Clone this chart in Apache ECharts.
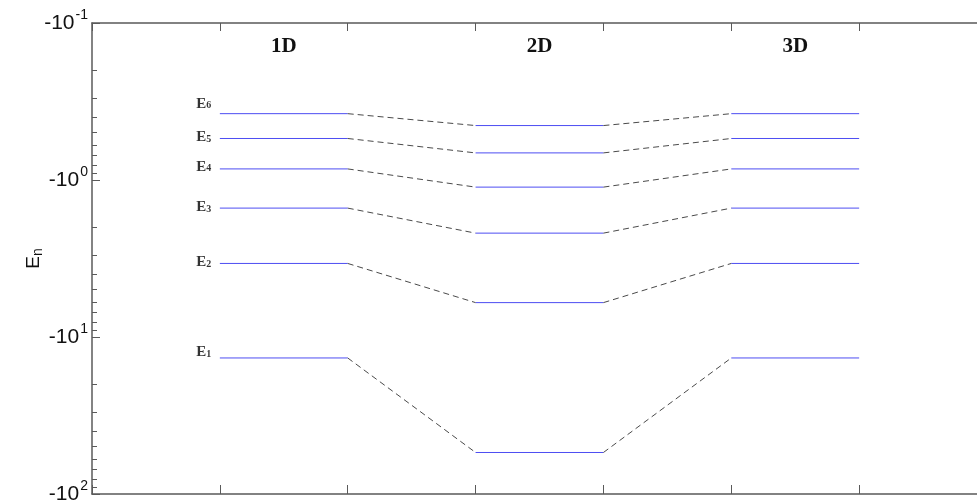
<!DOCTYPE html>
<html>
<head>
<meta charset="utf-8">
<script src="https://cdn.jsdelivr.net/npm/echarts@6/dist/echarts.min.js"></script>
<style>
  html, body { margin: 0; padding: 0; background: #fff; }
  #chart { width: 977px; height: 502px; }
</style>
</head>
<body>
<div id="chart"></div>
<script>
// energy levels (y axis is -|E| on a log scale)
var levelNames = ['1', '2', '3', '4', '5', '6'];
var energy1D = [-13.6, -3.40, -1.51, -0.85, -0.544, -0.378];
var energy2D = [-54.4, -6.04, -2.18, -1.11, -0.672, -0.450];
var energy3D = [-13.6, -3.40, -1.51, -0.85, -0.544, -0.378];
var columnNames = ['', '1D', '', '2D', '', '3D', ''];
var columnStart = [1, 3, 5];

var levelColor = '#4d4df2';
var dashColor = '#4a4a4a';
var axisColor = '#5a5a5a';
// small vertical nudges of the E labels, as in the figure
var labelShift = [-6, -1, -1, -2, -1, -10];

var series = [];
var labelData = [];
for (var i = 0; i < levelNames.length; i++) {
	var vals = [energy1D[i], energy2D[i], energy3D[i]];
	for (var d = 0; d < 3; d++) {
		var x0 = columnStart[d];
		series.push({
			type: 'line',
			data: [[x0, -vals[d]], [x0 + 1, -vals[d]]],
			symbol: 'none',
			silent: true,
			lineStyle: {color: levelColor, width: 1},
			z: 3
		});
	}
	// dashed links between the columns
	series.push({
		type: 'line',
		data: [[2, -vals[0]], [3, -vals[1]]],
		symbol: 'none',
		silent: true,
		lineStyle: {color: dashColor, width: 1, type: [6, 4]}
	});
	series.push({
		type: 'line',
		data: [[4, -vals[1]], [5, -vals[2]]],
		symbol: 'none',
		silent: true,
		lineStyle: {color: dashColor, width: 1, type: [6, 4]}
	});
	labelData.push({
		value: [columnStart[0], -vals[0]],
		label: {offset: [0, labelShift[i]], formatter: '{e|E}{s|' + levelNames[i] + '}'}
	});
}

// E_n names at the left end of the 1D levels
series.push({
	type: 'scatter',
	data: labelData,
	symbolSize: 1,
	silent: true,
	itemStyle: {color: 'rgba(0,0,0,0)'},
	label: {
		show: true,
		position: 'left',
		distance: 8,
		fontFamily: 'Liberation Serif',
		fontWeight: 'bold',
		fontSize: 15,
		rich: {
			e: {fontFamily: 'Liberation Serif', fontWeight: 'bold', fontSize: 15, color: '#000'},
			s: {fontFamily: 'Liberation Serif', fontWeight: 'bold', fontSize: 10, color: '#000', padding: [4, 0, 0, 0]}
		}
	},
	z: 4
});

var myChart = echarts.init(document.getElementById('chart'), null, {renderer: 'canvas'});
var option = {
	animation: false,
	backgroundColor: '#fff',
	grid: {left: 92, top: 23, bottom: 8, right: -10, containLabel: false, outerBoundsMode: 'none'},
	xAxis: [
		{
			type: 'value',
			min: 0,
			max: 7,
			interval: 1,
			position: 'bottom',
			axisLine: {show: true, lineStyle: {color: axisColor, width: 1.5}},
			axisTick: {show: true, inside: true, length: 9, lineStyle: {color: axisColor}},
			axisLabel: {show: false},
			splitLine: {show: false}
		},
		{
			type: 'category',
			data: columnNames,
			position: 'top',
			boundaryGap: true,
			axisLine: {show: true, lineStyle: {color: axisColor, width: 1.5}},
			axisTick: {show: true, inside: true, length: 8, alignWithLabel: false, interval: 0, lineStyle: {color: axisColor}},
			axisLabel: {
				show: true,
				inside: true,
				interval: 0,
				margin: 13,
				color: '#111',
				fontFamily: 'Liberation Serif',
				fontWeight: 'bold',
				fontSize: 21
			},
			splitLine: {show: false}
		}
	],
	yAxis: {
		type: 'log',
		logBase: 10,
		min: 0.1,
		max: 100,
		inverse: true,
		name: '{e|E}{n|n}',
		nameLocation: 'middle',
		nameRotate: 90,
		nameGap: 47,
		nameMoveOverlap: false,
		nameTextStyle: {
			fontFamily: 'Liberation Sans',
			fontSize: 19,
			rich: {
				e: {fontFamily: 'Liberation Sans', fontSize: 19, color: '#111'},
				n: {fontFamily: 'Liberation Sans', fontSize: 14, color: '#111', padding: [9, 0, 0, 0]}
			}
		},
		axisLine: {show: true, lineStyle: {color: axisColor, width: 1.5}},
		axisTick: {show: true, inside: true, length: 8, lineStyle: {color: axisColor}},
		minorTick: {show: true, splitNumber: 9, length: 5, lineStyle: {color: axisColor}},
		axisLabel: {
			margin: 4,
			fontFamily: 'Liberation Sans',
			fontSize: 21,
			color: '#111',
			formatter: function (value) {
				var p = Math.round(Math.log(value) / Math.LN10);
				return '{b|-10}{s|' + p + '}';
			},
			rich: {
				b: {fontFamily: 'Liberation Sans', fontSize: 21, lineHeight: 30, color: '#111', verticalAlign: 'middle'},
				s: {fontFamily: 'Liberation Sans', fontSize: 14, lineHeight: 14, color: '#111', verticalAlign: 'top', padding: [0, 0, 0, 1]}
			}
		},
		splitLine: {show: false},
		minorSplitLine: {show: false}
	},
	series: series
};
myChart.setOption(option);
</script>
</body>
</html>
